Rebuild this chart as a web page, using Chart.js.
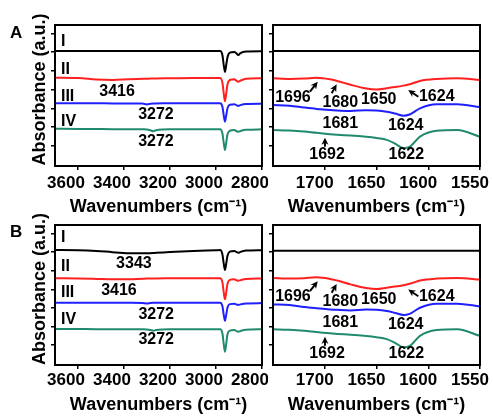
<!DOCTYPE html>
<html>
<head>
<meta charset="utf-8">
<script src="https://cdn.jsdelivr.net/npm/chart.js@4"></script>
<style>
body { margin: 0; background: #fff; }
#fig { position: relative; width: 493px; height: 416px; overflow: hidden; font-family: "Liberation Sans", Arial, sans-serif; }
canvas { position: absolute; }
.letter { position: absolute; font-weight: bold; font-size: 17px; line-height: 20px; }
</style>
</head>
<body>
<div id="fig">
  <canvas id="aLeft" width="268" height="220" style="left:0;top:0"></canvas>
  <canvas id="aRight" width="225" height="220" style="left:268px;top:0"></canvas>
  <canvas id="bLeft" width="268" height="216" style="left:0;top:200px"></canvas>
  <canvas id="bRight" width="225" height="216" style="left:268px;top:200px"></canvas>
  <div class="letter" style="left:10px;top:23px">A</div>
  <div class="letter" style="left:10px;top:222px">B</div>
</div>
<script>
const FONT = "'Liberation Sans', Arial, sans-serif"

const names = ['I', 'II', 'III', 'IV']
const colors = ['#000000', '#ff2020', '#2020ff', '#208a6e']

// wavenumber grids (cm-1)
const wnLeft = [3700, 3600, 3520, 3450, 3380, 3320, 3300, 3285, 3273, 3260, 3200, 3100, 3000, 2982, 2972, 2966, 2961, 2956, 2950, 2940, 2920, 2912, 2903, 2894, 2870, 2800]
const wnRight = [1750, 1734, 1720, 1708, 1695, 1688, 1675, 1660, 1650, 1640, 1632, 1624, 1618, 1608, 1592, 1572, 1550]

const tickLeft = [3600, 3400, 3200, 3000, 2800]
const tickRight = [1700, 1650, 1600, 1550]
const tickY = [1.42, 2.75, 4.08, 5.41, 6.74, 8.07, 9.4]

// panel A, 3700-2800
const aI = [8.16, 8.16, 8.16, 8.16, 8.16, 8.16, 8.16, 8.16, 8.16, 8.16, 8.16, 8.16, 8.16, 8.16, 7.86, 7.12, 6.67, 7.12, 7.72, 8.04, 8.09, 8.0, 7.87, 8.0, 8.12, 8.14]
const aII = [6.26, 6.24, 6.13, 6.10, 6.15, 6.18, 6.19, 6.2, 6.2, 6.21, 6.22, 6.24, 6.24, 6.24, 5.9, 5.1, 4.6, 5.1, 5.8, 6.1, 6.15, 6.05, 5.98, 6.05, 6.18, 6.22]
const aIII = [4.45, 4.45, 4.45, 4.44, 4.44, 4.43, 4.37, 4.42, 4.44, 4.44, 4.45, 4.45, 4.45, 4.45, 4.2, 3.55, 3.14, 3.55, 4.1, 4.35, 4.38, 4.32, 4.26, 4.32, 4.4, 4.42]
const aIV = [2.65, 2.63, 2.62, 2.61, 2.61, 2.6, 2.59, 2.53, 2.46, 2.54, 2.6, 2.6, 2.6, 2.6, 2.3, 1.6, 1.13, 1.6, 2.25, 2.5, 2.55, 2.48, 2.43, 2.48, 2.57, 2.6]

// panel B, 3700-2800
const bI = [8.21, 8.2, 8.15, 8.06, 7.99, 7.98, 7.98, 7.99, 8.0, 8.01, 8.07, 8.15, 8.2, 8.21, 7.9, 7.2, 6.79, 7.2, 7.8, 8.1, 8.15, 8.08, 8.02, 8.08, 8.17, 8.2]
const bII = [6.2, 6.18, 6.15, 6.12, 6.13, 6.16, 6.17, 6.17, 6.17, 6.18, 6.19, 6.2, 6.19, 6.19, 5.9, 5.15, 4.69, 5.15, 5.8, 6.08, 6.12, 6.06, 6.02, 6.06, 6.15, 6.18]
const bIII = [4.45, 4.45, 4.45, 4.45, 4.44, 4.43, 4.39, 4.43, 4.44, 4.44, 4.45, 4.45, 4.45, 4.45, 4.2, 3.55, 3.16, 3.55, 4.1, 4.35, 4.38, 4.33, 4.29, 4.33, 4.4, 4.42]
const bIV = [2.58, 2.57, 2.56, 2.56, 2.55, 2.55, 2.54, 2.5, 2.45, 2.5, 2.55, 2.55, 2.55, 2.55, 2.25, 1.45, 0.95, 1.45, 2.2, 2.45, 2.5, 2.43, 2.38, 2.43, 2.52, 2.55]

// 1750-1550 region (same in A and B)
const rI = [8.16, 8.16, 8.16, 8.16, 8.16, 8.16, 8.16, 8.16, 8.16, 8.16, 8.16, 8.16, 8.16, 8.16, 8.16, 8.16, 8.16]
const rII = [6.22, 6.17, 6.2, 6.26, 6.15, 6.03, 5.76, 5.5, 5.42, 5.52, 5.6, 5.7, 5.8, 6.03, 6.17, 6.22, 6.1]
const rIII = [4.33, 4.28, 4.15, 4.05, 3.97, 3.94, 3.9, 3.96, 3.94, 3.85, 3.72, 3.57, 3.65, 4.09, 4.38, 4.38, 4.18]
const rIV = [2.55, 2.52, 2.45, 2.35, 2.26, 2.22, 2.16, 2.08, 1.99, 1.85, 1.58, 1.26, 1.35, 2.08, 2.5, 2.55, 2.08]

const notesA = [
    {t: 'I', x: 3674, y: 8.79, align: 'left'},
    {t: 'II', x: 3674, y: 6.81, align: 'left'},
    {t: 'III', x: 3674, y: 4.89, align: 'left'},
    {t: 'IV', x: 3674, y: 3.12, align: 'left'},
    {t: '3416', x: 3430, y: 5.25},
    {t: '3272', x: 3261, y: 3.62},
    {t: '3272', x: 3261, y: 1.70},
]
const notesB = [
    {t: 'I', x: 3674, y: 9.07, align: 'left'},
    {t: 'II', x: 3674, y: 7.0, align: 'left'},
    {t: 'III', x: 3674, y: 5.14, align: 'left'},
    {t: 'IV', x: 3674, y: 3.21, align: 'left'},
    {t: '3343', x: 3357, y: 7.21},
    {t: '3416', x: 3422, y: 5.29},
    {t: '3272', x: 3260, y: 3.57},
    {t: '3272', x: 3260, y: 1.79},
]
const notesRight = [
    {t: '1696', x: 1730.7, y: 4.87},
    {t: '1680', x: 1685, y: 4.52},
    {t: '1650', x: 1647.9, y: 4.68},
    {t: '1624', x: 1591.8, y: 4.91},
    {t: '1681', x: 1685, y: 3.03},
    {t: '1624', x: 1621.8, y: 2.86},
    {t: '1692', x: 1697.8, y: 0.83},
    {t: '1622', x: 1621.2, y: 0.78},
]
const arrowsRight = [
    {x0: 1714.3, y0: 5.27, x1: 1706.8, y1: 5.98},
    {x0: 1693.3, y0: 5.16, x1: 1688.5, y1: 5.79},
    {x0: 1609.6, y0: 4.91, x1: 1619.3, y1: 5.39},
    {x0: 1699.8, y0: 1.37, x1: 1699.8, y1: 2.01},
]

function extras(cfg) {
    return {
        id: 'extras',
        afterDraw(chart) {
            const ctx = chart.ctx
            const a = chart.chartArea
            const sx = v => chart.scales.x.getPixelForValue(v)
            const sy = v => chart.scales.y.getPixelForValue(v)
            ctx.save()
            ctx.strokeStyle = '#000'
            ctx.fillStyle = '#000'
            ctx.lineWidth = 2
            ctx.strokeRect(a.left, a.top, a.right - a.left, a.bottom - a.top)

            ctx.font = 'bold 16px ' + FONT
            ctx.textBaseline = 'middle'
            cfg.notes.forEach(n => {
                ctx.textAlign = n.align || 'center'
                ctx.fillText(n.t, sx(n.x), sy(n.y))
            })

            ;(cfg.arrows || []).forEach(r => {
                const x0 = sx(r.x0), y0 = sy(r.y0), x1 = sx(r.x1), y1 = sy(r.y1)
                const ang = Math.atan2(y1 - y0, x1 - x0)
                ctx.lineWidth = 2
                ctx.beginPath()
                ctx.moveTo(x0, y0)
                ctx.lineTo(x1 - 3 * Math.cos(ang), y1 - 3 * Math.sin(ang))
                ctx.stroke()
                ctx.beginPath()
                ctx.moveTo(x1, y1)
                ctx.lineTo(x1 - 8 * Math.cos(ang - 0.45), y1 - 8 * Math.sin(ang - 0.45))
                ctx.lineTo(x1 - 5 * Math.cos(ang), y1 - 5 * Math.sin(ang))
                ctx.lineTo(x1 - 8 * Math.cos(ang + 0.45), y1 - 8 * Math.sin(ang + 0.45))
                ctx.closePath()
                ctx.fill()
            })

            if (cfg.yTitle) {
                ctx.translate(40, (a.top + a.bottom) / 2 - 6)
                ctx.rotate(-Math.PI / 2)
                ctx.font = 'bold 18px ' + FONT
                ctx.textAlign = 'center'
                ctx.fillText('Absorbance (a.u.)', 0, 0)
            }
            ctx.restore()
        }
    }
}

function panel(id, cfg) {
    return new Chart(document.getElementById(id), {
        type: 'line',
        data: {
            datasets: cfg.series.map((s, i) => ({
                label: names[i],
                data: cfg.wn.map((w, j) => ({x: w, y: s[j]})),
                borderColor: colors[i],
                borderWidth: 2,
                pointRadius: 0,
                cubicInterpolationMode: 'monotone',
            }))
        },
        options: {
            responsive: false,
            animation: false,
            layout: {padding: cfg.pad},
            plugins: {legend: {display: false}, tooltip: {enabled: false}},
            scales: {
                x: {
                    type: 'linear',
                    reverse: true,
                    min: cfg.min,
                    max: cfg.max,
                    afterBuildTicks: s => { s.ticks = cfg.ticks.map(v => ({value: v})) },
                    afterFit: s => {
                        s.height = cfg.xh
                        s.paddingLeft = 0
                        s.paddingRight = 0
                    },
                    border: {display: false},
                    grid: {drawOnChartArea: false, tickLength: 4, color: '#000', lineWidth: 1.5},
                    ticks: {
                        color: '#000',
                        font: {family: FONT, size: 17, weight: 'bold'},
                        padding: cfg.tp,
                        labelOffset: cfg.lo,
                        maxRotation: 0,
                        autoSkip: false,
                        callback: v => String(v),
                    },
                    title: {
                        display: true,
                        text: 'Wavenumbers (cm⁻¹)',
                        color: '#000',
                        font: {family: FONT, size: 18, weight: 'bold', lineHeight: 1.2},
                        padding: {top: 0, bottom: cfg.titlePad},
                    }
                },
                y: {
                    min: 0,
                    max: 10,
                    afterBuildTicks: s => { s.ticks = tickY.map(v => ({value: v})) },
                    afterFit: s => {
                        s.width = cfg.yw
                        s.paddingTop = 0
                        s.paddingBottom = 0
                    },
                    border: {display: false},
                    ticks: {display: false},
                    grid: {drawOnChartArea: false, tickLength: 4, color: '#000', lineWidth: 1.5},
                }
            }
        },
        plugins: [extras(cfg)]
    })
}

panel('aLeft', {
    wn: wnLeft, series: [aI, aII, aIII, aIV], min: 2800, max: 3700, ticks: tickLeft,
    pad: {left: 0, top: 25, right: 6, bottom: 0}, yw: 55, xh: 54, tp: 3, lo: -12, titlePad: 2,
    notes: notesA, yTitle: true
})
panel('aRight', {
    wn: wnRight, series: [rI, rII, rIII, rIV], min: 1550, max: 1750, ticks: tickRight,
    pad: {left: 0, top: 25, right: 13, bottom: 0}, yw: 5, xh: 54, tp: 3, lo: -10, titlePad: 2,
    notes: notesRight, arrows: arrowsRight
})
panel('bLeft', {
    wn: wnLeft, series: [bI, bII, bIII, bIV], min: 2800, max: 3700, ticks: tickLeft,
    pad: {left: 0, top: 25, right: 6, bottom: 0}, yw: 55, xh: 51, tp: 1, lo: -12, titlePad: 0,
    notes: notesB, yTitle: true
})
panel('bRight', {
    wn: wnRight, series: [rI, rII, rIII, rIV], min: 1550, max: 1750, ticks: tickRight,
    pad: {left: 0, top: 25, right: 13, bottom: 0}, yw: 5, xh: 51, tp: 1, lo: -10, titlePad: 0,
    notes: notesRight, arrows: arrowsRight
})
</script>
</body>
</html>
